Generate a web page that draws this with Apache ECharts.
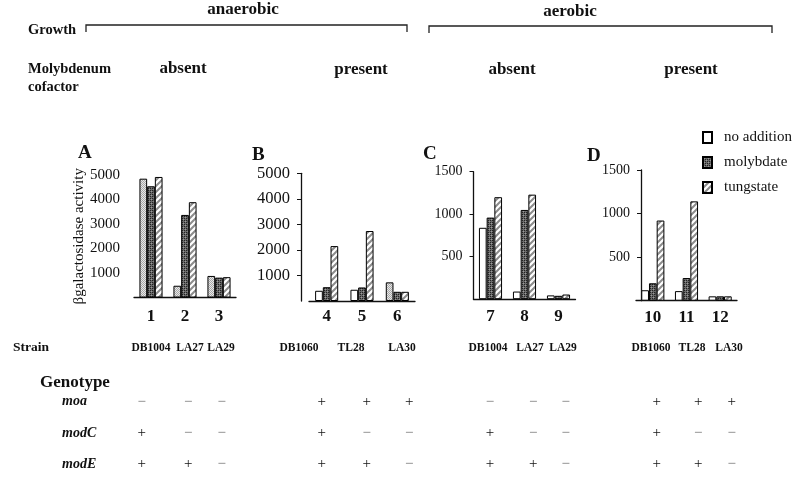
<!DOCTYPE html>
<html><head><meta charset="utf-8">
<script src="https://cdn.jsdelivr.net/npm/echarts@6/dist/echarts.min.js"></script>
<style>html,body{margin:0;padding:0;background:#fff}#c{width:800px;height:478px}</style>
</head><body><div id="c"></div>
<script>
// ---------- DATA ----------
const seriesNames = ['no addition', 'molybdate', 'tungstate'];
const panelLetters = ['A', 'B', 'C', 'D'];

const lanesA = ['1', '2', '3'];
const lanesB = ['4', '5', '6'];
const lanesC = ['7', '8', '9'];
const lanesD = ['10', '11', '12'];

const strainsA = ['DB1004', 'LA27', 'LA29'];
const strainsB = ['DB1060', 'TL28', 'LA30'];
const strainsC = ['DB1004', 'LA27', 'LA29'];
const strainsD = ['DB1060', 'TL28', 'LA30'];

const noAdditionA = [4850, 480, 880];
const molybdateA  = [4540, 3370, 810];
const tungstateA  = [4920, 3890, 830];

const noAdditionB = [400, 440, 730];
const molybdateB  = [540, 530, 360];
const tungstateB  = [2150, 2740, 360];

const noAdditionC = [840, 90, 45];
const molybdateC  = [960, 1050, 40];
const tungstateC  = [1200, 1230, 55];

const noAdditionD = [120, 110, 50];
const molybdateD  = [200, 260, 50];
const tungstateD  = [920, 1140, 50];

const axisMaxA = 5000, axisStepA = 1000;
const axisMaxB = 5000, axisStepB = 1000;
const axisMaxC = 1500, axisStepC = 500;
const axisMaxD = 1500, axisStepD = 500;

const yAxisTitle = 'βgalactosidase activity';
const growthLabels = ['anaerobic', 'aerobic'];
const cofactorLabels = ['absent', 'present', 'absent', 'present'];

const genotypeRows = ['moa', 'modC', 'modE'];
const moa  = ['−','−','−','+','+','+','−','−','−','+','+','+'];
const modC = ['+','−','−','+','−','−','+','−','−','+','−','−'];
const modE = ['+','+','−','+','+','−','+','+','−','+','+','−'];

// ---------- LAYOUT / STYLE ----------
const FONT = "'Liberation Serif','Times New Roman',serif";
const grids = [
  {left: 134, width: 102, top: 175,   bottom: 478 - 297.5, yOffset: 0,  labelSize: 15, showAxis: false, xMargin: 11},
  {left: 309, width: 106, top: 173.3, bottom: 478 - 301,   yOffset: 8,  labelSize: 16.5, showAxis: true, xMargin: 7},
  {left: 473.5, width: 102, top: 171.7, bottom: 478 - 299.2, yOffset: 0, labelSize: 14, showAxis: true, xMargin: 9},
  {left: 636, width: 101, top: 170, bottom: 478 - 300.7,   yOffset: -5, labelSize: 14, showAxis: true, xMargin: 8}
];
const letterPos = [[78, 153], [252, 155], [423, 154], [587, 156]];
const cofactorPos = [[183, 69], [361, 70], [512, 70], [691, 70]];
const strainX = [151, 190, 221, 299, 351, 402, 488, 530, 563, 651, 692, 729];
const strainY = 348;
const genoX = [141.7, 188.3, 221.7, 321.7, 366.7, 409.3, 490, 533.3, 565.7, 656.7, 698.3, 731.7];
const genoY = [401.7, 433, 464];
const stippled = {0: [0, 1, 2], 1: [2]}; // panels whose "no addition" bars are stippled grey

function makePattern(w, h, draw) {
  const c = document.createElement('canvas');
  c.width = w; c.height = h;
  const ctx = c.getContext('2d');
  draw(ctx, w, h);
  return {image: c, repeat: 'repeat'};
}
const molyPattern = makePattern(4, 4, (ctx) => {
  ctx.fillStyle = '#6a6a6a'; ctx.fillRect(0, 0, 4, 4);
  ctx.fillStyle = '#222';
  ctx.fillRect(0, 0, 1, 1); ctx.fillRect(2, 2, 1, 1); ctx.fillRect(2, 0, 1, 1); ctx.fillRect(0, 2, 1, 1);
  ctx.fillStyle = '#9a9a9a';
  ctx.fillRect(1, 1, 1, 1); ctx.fillRect(3, 3, 1, 1);
});
const tungPattern = makePattern(6, 6, (ctx) => {
  ctx.fillStyle = '#fff'; ctx.fillRect(0, 0, 6, 6);
  ctx.strokeStyle = '#8c8c8c'; ctx.lineWidth = 2;
  ctx.beginPath();
  ctx.moveTo(-1, 7); ctx.lineTo(7, -1);
  ctx.moveTo(-4, 4); ctx.lineTo(4, -4);
  ctx.moveTo(2, 10); ctx.lineTo(10, 2);
  ctx.stroke();
});
const stipplePattern = makePattern(2, 2, (ctx) => {
  ctx.fillStyle = '#e8e8e8'; ctx.fillRect(0, 0, 2, 2);
  ctx.fillStyle = '#a8a8a8'; ctx.fillRect(0, 0, 1, 1); ctx.fillRect(1, 1, 1, 1);
});
const fills = ['#ffffff', molyPattern, tungPattern];

const lanes = [lanesA, lanesB, lanesC, lanesD];
const values = [
  [noAdditionA, molybdateA, tungstateA],
  [noAdditionB, molybdateB, tungstateB],
  [noAdditionC, molybdateC, tungstateC],
  [noAdditionD, molybdateD, tungstateD]
];
const axisMax = [axisMaxA, axisMaxB, axisMaxC, axisMaxD];
const axisStep = [axisStepA, axisStepB, axisStepC, axisStepD];
const strains = [].concat(strainsA, strainsB, strainsC, strainsD);

const series = [];
values.forEach((set, p) => {
  set.forEach((vals, s) => {
    series.push({
      type: 'bar', name: seriesNames[s], xAxisIndex: p, yAxisIndex: p,
      barWidth: 7.7, barGap: '0%',
      itemStyle: {color: fills[s], borderColor: '#000', borderWidth: 1},
      data: vals.map((v, i) => {
        if (s === 0 && stippled[p] && stippled[p].includes(i)) {
          return {value: v, itemStyle: {color: stipplePattern}};
        }
        return v;
      })
    });
  });
});

const black = '#111';
const xAxes = grids.map((g, p) => ({
  gridIndex: p, type: 'category', data: lanes[p],
  axisLine: {show: true, lineStyle: {color: black, width: 1.3}},
  axisTick: {show: false},
  axisLabel: {margin: g.xMargin, fontFamily: FONT, fontWeight: 'bold', fontSize: 17, color: black}
}));
const yAxes = grids.map((g, p) => ({
  gridIndex: p, type: 'value', min: 0, max: axisMax[p], interval: axisStep[p],
  offset: g.yOffset,
  axisLine: {show: g.showAxis, lineStyle: {color: black, width: 1.3}},
  axisTick: {show: g.showAxis, length: 4, lineStyle: {color: black}},
  splitLine: {show: false},
  axisLabel: {showMinLabel: false, margin: g.showAxis ? 11 : 14, fontFamily: FONT, fontSize: g.labelSize, color: black,
    formatter: v => String(v)},
  name: p === 0 ? yAxisTitle : '',
  nameLocation: 'middle', nameRotate: 90, nameGap: 47,
  nameTextStyle: {fontFamily: FONT, fontSize: 15, color: black}
}));

const graphic = [];
function txt(text, x, y, size, opts) {
  opts = opts || {};
  graphic.push({
    type: 'text', silent: true,
    style: {
      text: text, x: x, y: y,
      font: (opts.italic ? 'italic ' : '') + (opts.bold === false ? 'normal ' : 'bold ') + size + 'px ' + FONT,
      textAlign: opts.align || 'center', textVerticalAlign: 'middle',
      fill: opts.fill || black
    }
  });
}
// growth header
txt(growthLabels[0], 243, 10, 17);
txt(growthLabels[1], 570, 12, 17);
txt('Growth', 28, 30, 14.5, {align: 'left'});
graphic.push({type: 'polyline', silent: true, shape: {points: [[86, 32], [86, 25], [407, 25], [407, 32]]}, style: {stroke: '#222', lineWidth: 1.3, fill: null}});
graphic.push({type: 'polyline', silent: true, shape: {points: [[429, 33], [429, 26], [772, 26], [772, 33]]}, style: {stroke: '#222', lineWidth: 1.3, fill: null}});
txt('Molybdenum', 28, 69, 14.5, {align: 'left'});
txt('cofactor', 28, 87, 14.5, {align: 'left'});
cofactorLabels.forEach((t, i) => txt(t, cofactorPos[i][0], cofactorPos[i][1], 17));
panelLetters.forEach((t, i) => txt(t, letterPos[i][0], letterPos[i][1], 19, {align: 'left'}));
// strain row
txt('Strain', 13, strainY, 13.5, {align: 'left'});
strains.forEach((t, i) => txt(t, strainX[i], strainY, 11.5));
// genotype
txt('Genotype', 40, 383, 17, {align: 'left'});
const genoVals = [moa, modC, modE];
genotypeRows.forEach((r, k) => {
  txt(r, 62, genoY[k], 14, {align: 'left', italic: true});
  genoVals[k].forEach((sym, i) => {
    txt(sym, genoX[i], genoY[k], 15, {bold: false, fill: sym === '+' ? '#111' : '#777'});
  });
});

const chart = echarts.init(document.getElementById('c'), null, {renderer: 'canvas'});
chart.setOption({
  animation: false,
  backgroundColor: '#fff',
  grid: grids.map(g => ({left: g.left, width: g.width, top: g.top, bottom: g.bottom, containLabel: false})),
  xAxis: xAxes,
  yAxis: yAxes,
  legend: {
    data: seriesNames.map(n => ({name: n, icon: 'rect'})), orient: 'vertical', left: 697, top: 125,
    itemWidth: 9, itemHeight: 11, itemGap: 10,
    textStyle: {fontFamily: FONT, fontSize: 15, color: black, padding: [0, 0, 0, 7]}
  },
  series: series,
  graphic: graphic
});
</script>
</body></html>
